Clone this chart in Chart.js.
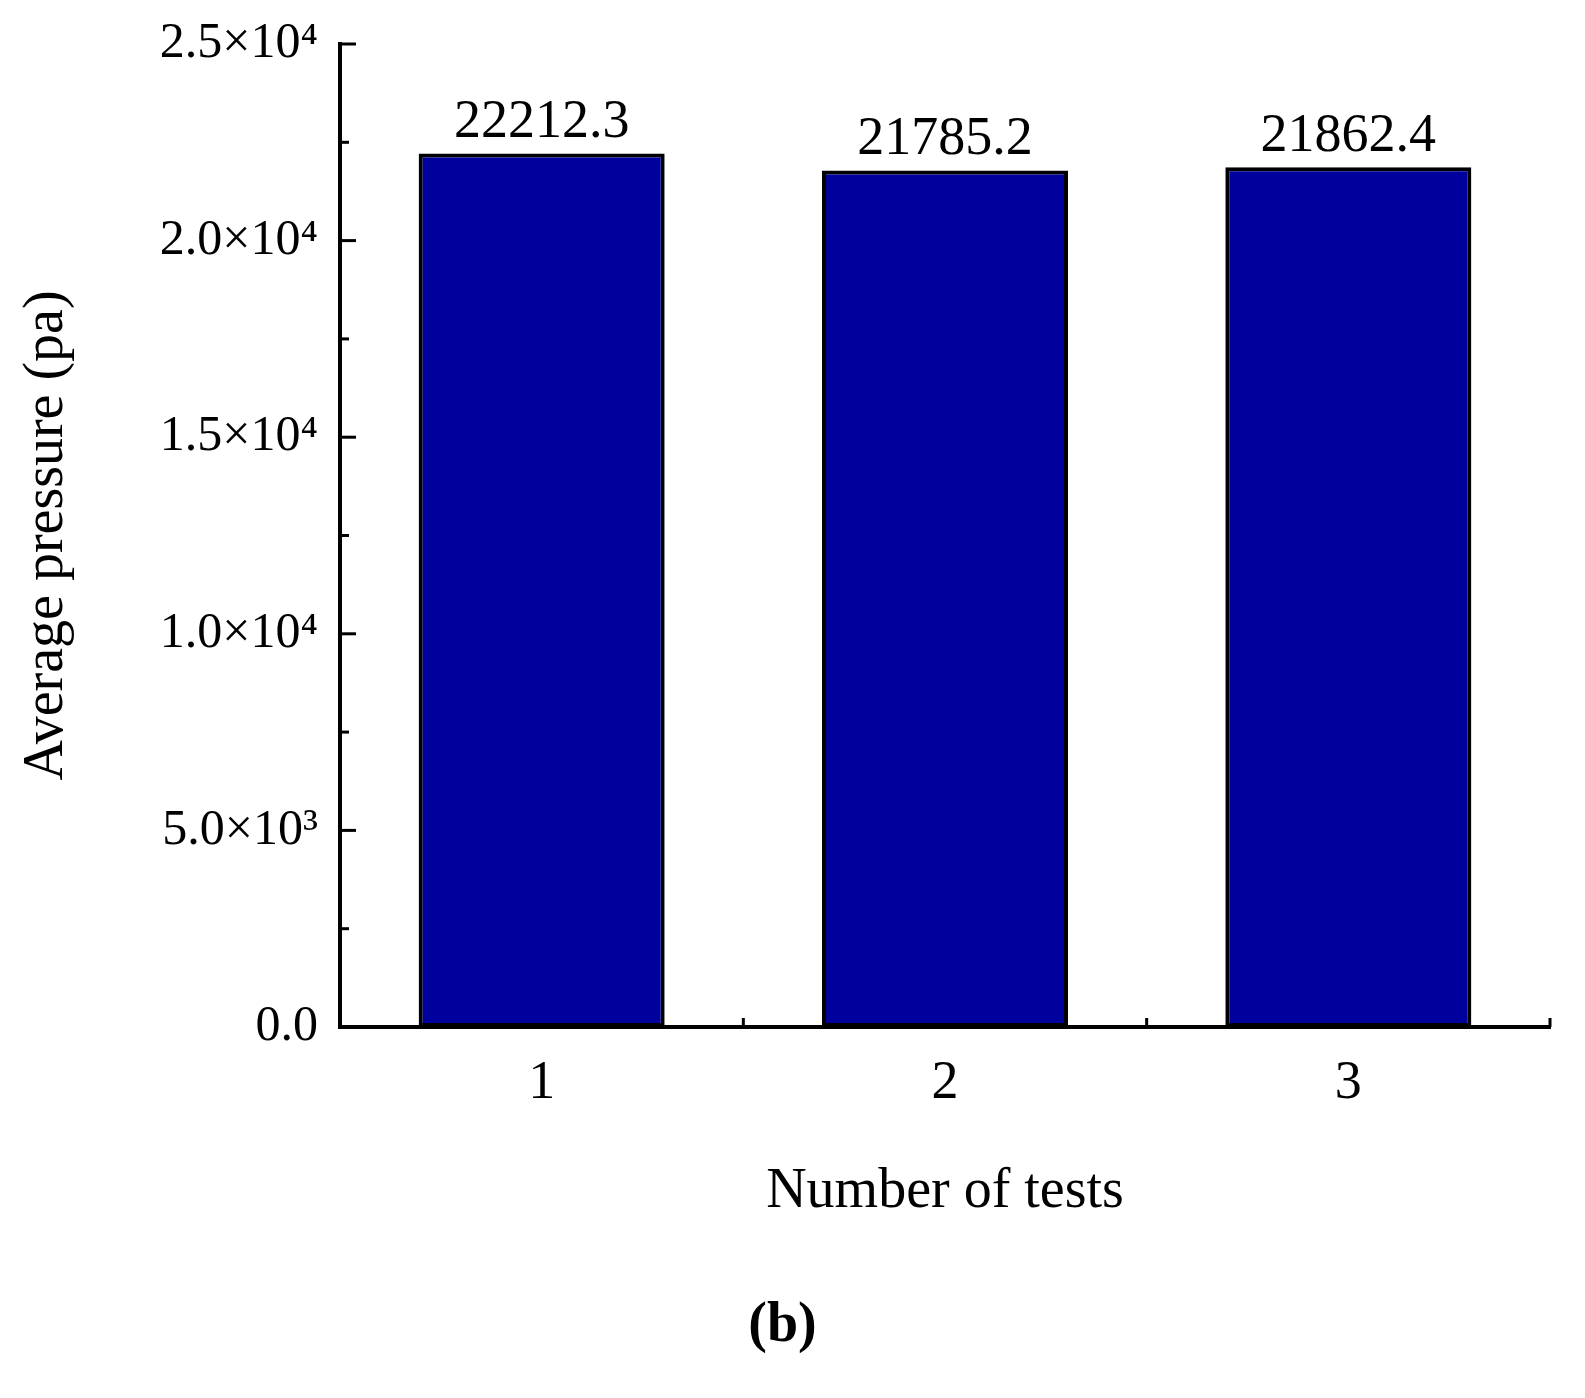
<!DOCTYPE html>
<html>
<head>
<meta charset="utf-8">
<script src="https://cdn.jsdelivr.net/npm/chart.js@4"></script>
<style>
  body { margin: 0; background: #fff; }
  #wrap { width: 1585px; height: 1230px; position: relative; }
  #caption { text-align: center; font-family: "Liberation Serif", serif; font-weight: bold; font-size: 56px; margin-top: 60px; width: 1565px; }
</style>
</head>
<body>
<div id="wrap"><canvas id="chart"></canvas></div>
<div id="caption">(b)</div>
<script>
// Data
const categories = ["1", "2", "3"];
const pressureValues = [22212.3, 21785.2, 21862.4];
const yTickLabels = {0: "0.0", 5000: "5.0×10³", 10000: "1.0×10⁴", 15000: "1.5×10⁴", 20000: "2.0×10⁴", 25000: "2.5×10⁴"};

const FONT = "'Liberation Serif', 'Times New Roman', serif";

// Inward ticks and value labels
const axisPlugin = {
  id: "axisDecor",
  afterDraw(chart) {
    const ctx = chart.ctx;
    const y = chart.scales.y;
    const x = chart.scales.x;
    const area = chart.chartArea;
    ctx.save();
    ctx.strokeStyle = "#000";
    ctx.lineWidth = 3;
    for (let v = 0; v <= 25000; v += 2500) {
      const py = y.getPixelForValue(v);
      const len = v % 5000 === 0 ? 16 : 9;
      ctx.beginPath();
      ctx.moveTo(area.left, py);
      ctx.lineTo(area.left + len, py);
      ctx.stroke();
    }
    for (let i = 0; i < categories.length; i++) {
      const px = x.getPixelForValue(i) + (x.getPixelForValue(1) - x.getPixelForValue(0)) / 2;
      ctx.beginPath();
      ctx.moveTo(px, area.bottom);
      ctx.lineTo(px, area.bottom - 9);
      ctx.stroke();
    }
    // value labels
    ctx.fillStyle = "#000";
    ctx.font = "54px " + FONT;
    ctx.textAlign = "center";
    ctx.textBaseline = "bottom";
    const meta = chart.getDatasetMeta(0);
    meta.data.forEach((bar, i) => {
      ctx.fillText(pressureValues[i].toFixed(1), bar.x, bar.y - 4);
    });
    ctx.restore();
  }
};

new Chart(document.getElementById("chart"), {
  type: "bar",
  data: {
    labels: categories,
    datasets: [{
      data: pressureValues,
      backgroundColor: "#00009c",
      borderColor: "#000",
      borderWidth: 4,
      borderSkipped: false,
      categoryPercentage: 0.61,
      barPercentage: 1.0,
    }],
  },
  options: {
    responsive: true,
    maintainAspectRatio: false,
    animation: false,
    layout: { padding: { top: 28, right: 35, left: 10 } },
    plugins: { legend: { display: false }, tooltip: { enabled: false } },
    scales: {
      x: {
        grid: { display: false },
        border: { color: "#000", width: 4 },
        ticks: { color: "#000", font: { family: FONT, size: 54 }, padding: 16 },
        title: { display: true, text: "Number of tests", color: "#000", font: { family: FONT, size: 56 }, padding: { top: 6 } },
        afterFit(scale) { scale.height = 203; },
      },
      y: {
        min: 0,
        max: 25000,
        afterBuildTicks(scale) {
          scale.ticks = Object.keys(yTickLabels).map(v => ({ value: Number(v) }));
        },
        grid: { display: false },
        border: { color: "#000", width: 4 },
        ticks: {
          color: "#000",
          font: { family: FONT, size: 50 },
          padding: 14,
          callback: (v) => yTickLabels[v],
        },
        title: { display: true, text: "Average pressure (pa)", color: "#000", font: { family: FONT, size: 56 }, padding: { bottom: 0 } },
        afterFit(scale) { scale.width = 330; },
      },
    },
  },
  plugins: [axisPlugin],
});
</script>
</body>
</html>
